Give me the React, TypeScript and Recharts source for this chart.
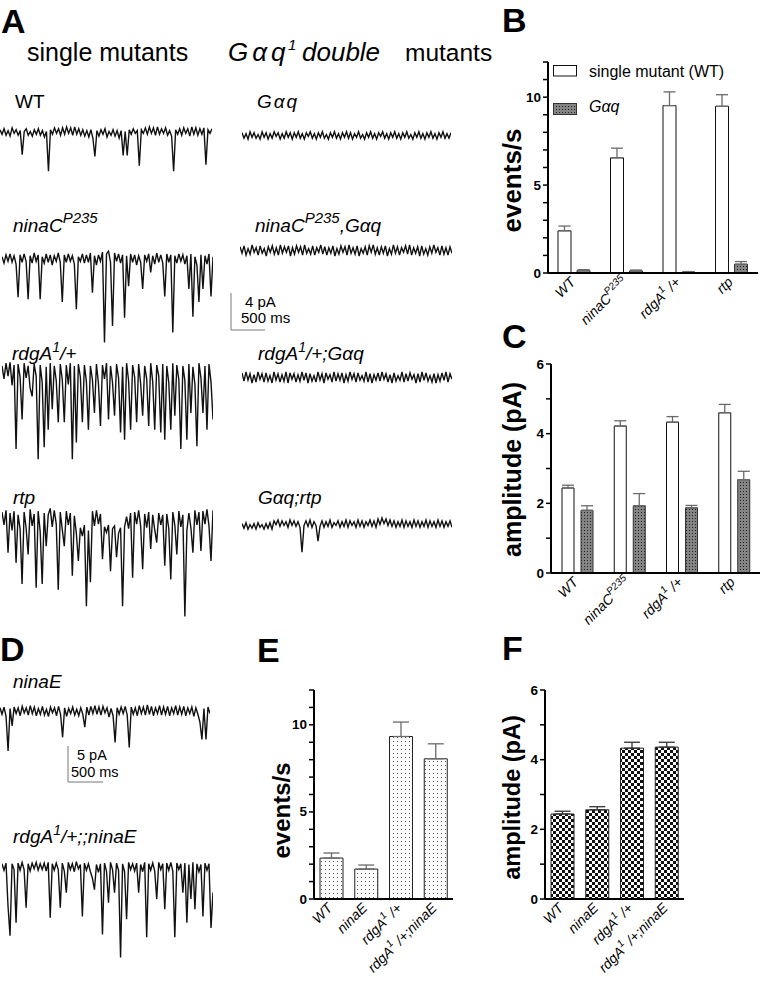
import React from "react";
import { BarChart, Bar, XAxis, YAxis, ErrorBar, LineChart, Line } from "recharts";

const FONT = "'Liberation Sans', Arial, Helvetica, sans-serif";

// ---------- Panel B / C categories ----------
const bcCategories = ["WT", "ninaC", "rdgA", "rtp"];
const bcTickBase = ["WT", "ninaC", "rdgA", "rtp"];
const bcTickSup = ["", "P235", "1", ""];
const bcTickTail = ["", "", " /+", ""];

// Panel B: events/s
const bSingle = [2.4, 6.55, 9.52, 9.48];
const bSingleErr = [0.27, 0.55, 0.78, 0.66];
const bGaq = [0.14, 0.12, 0.05, 0.5];
const bGaqErr = [0.05, 0.05, 0.03, 0.15];
const bTicks = [0, 1, 2, 3, 4, 5, 6, 7, 8, 9, 10, 11, 12];

// Panel C: amplitude (pA)
const cSingle = [2.44, 4.22, 4.33, 4.6];
const cSingleErr = [0.08, 0.15, 0.16, 0.24];
const cGaq = [1.8, 1.93, 1.87, 2.68];
const cGaqErr = [0.13, 0.35, 0.07, 0.24];
const cTicks = [0, 1, 2, 3, 4, 5, 6];

// ---------- Panel E / F categories ----------
const efCategories = ["WT", "ninaE", "rdgA", "rdgAninaE"];
const efTickBase = ["WT", "ninaE", "rdgA", "rdgA"];
const efTickSup = ["", "", "1", "1"];
const efTickTail = ["", "", " /+", " /+;ninaE"];

const eRate = [2.35, 1.72, 9.33, 8.05];
const eRateErr = [0.29, 0.23, 0.83, 0.86];
const fAmp = [2.44, 2.56, 4.33, 4.36];
const fAmpErr = [0.08, 0.09, 0.17, 0.14];

// ---------- Traces (pA, downward events negative) ----------
const traceWT = [
  0.3, -0.2, 0.4, -0.3, 0.2, -0.4, 0.5, -0.1, 0.3, -0.3,
  0.2, -2.4, 0.1, 0.4, -0.3, 0.1, -0.4, 0.3, -0.2, 0.4,
  -0.3, 0.2, -0.5, 0.1, -4.2, 0.3, -0.2, 0.5, -0.1, 0.4,
  -0.3, 0.5, -0.2, 0.6, -0.1, 0.5, -0.3, 0.6, -0.2, 0.4,
  -0.3, 0.3, -0.4, 0.2, -0.5, 0.3, -0.6, -2.6, 0.2, -0.4,
  0.3, -0.2, 0.4, -0.5, 0.1, -0.3, 0.3, -0.4, 0.2, -0.6,
  0.2, -2.5, 0.1, -2.5, 0.3, -0.2, 0.4, -0.1, 0.2, -3.6,
  0.3, -0.1, 0.5, -0.2, 0.6, -0.1, 0.5, -0.3, 0.6, -0.2,
  0.4, -0.1, 0.5, -0.3, 0.2, -0.4, -4.2, 0.3, -0.2, 0.4,
  -0.3, 0.5, -0.1, 0.4, -0.4, 0.6, -0.2, 0.5, -0.3, 0.4,
  -0.2, 0.5, -3.5, 0.3, -0.1, 0.4,
];

const traceGaq = [
  0.3, -0.3, 0.2, -0.4, 0.4, -0.2, 0.3, -0.3, 0.1, -0.4,
  0.4, -0.2, 0.3, -0.4, 0.2, -0.3, 0.4, -0.1, 0.3, -0.4,
  0.2, -0.3, 0.4, -0.2, 0.3, -0.4, 0.3, -0.2, 0.4, -0.3,
  0.2, -0.4, 0.3, -0.1, 0.4, -0.3, 0.2, -0.4, 0.3, -0.2,
  0.4, -0.3, 0.1, -0.4, 0.3, -0.2, 0.4, -0.3, 0.2, -0.4,
  0.3, -0.2, 0.4, -0.3, 0.3, -0.4, 0.2, -0.2, 0.4, -0.3,
  0.1, -0.4, 0.3, -0.2, 0.4, -0.3, 0.2, -0.4, 0.3, -0.1,
  0.4, -0.3, 0.2, -0.4, 0.3, -0.2, 0.4, -0.3, 0.2, -0.4,
  0.3, -0.2, 0.4, -0.3, 0.1, -0.4, 0.3, -0.2, 0.4, -0.3,
  0.2, -0.4, 0.3, -0.2, 0.4, -0.3, 0.2, -0.4, 0.3, -0.2,
  0.4, -0.3, 0.2, -0.3, 0.3,
];

const traceNinaC = [
  0.3, -0.4, 0.5, -0.2, 0.6, -0.3, 0.4, -0.5, -4.1, 0.5,
  -0.3, 0.6, -0.2, -4.3, 0.4, -0.4, 0.7, -0.2, 0.5, -4.3,
  0.3, -0.4, 0.6, -0.3, 0.5, -0.6, 0.4, -0.2, 0.7, -0.3,
  -4.6, 0.5, -0.3, 0.6, -0.2, 0.4, -0.5, -5.4, 0.3, -0.2,
  0.6, -0.4, 0.5, -0.3, 0.7, -3.6, 0.4, -0.6, 0.5, -0.2,
  0.8, -9.0, 0.6, 0.9, -0.3, -7.2, 0.7, -0.2, 0.6, -0.4,
  0.5, -6.3, 0.4, -2.9, 0.6, -0.3, 0.5, -0.6, 0.4, -0.3,
  -3.2, 0.5, -0.2, 0.6, -1.4, 0.4, -0.5, 0.7, -0.3, 0.5,
  -0.4, -4.0, 0.6, -0.3, 0.5, -7.9, 0.4, -0.4, 0.6, -0.2,
  0.5, -0.5, 0.4, -3.2, 0.6, -6.2, 0.3, -0.6, -4.6, 0.5,
  -3.2, 0.4, -0.5, 0.6, -4.0, 0.3,
];

const traceNinaCGaq = [
  0.4, -0.3, 0.5, -0.5, 0.2, -0.4, 0.6, -0.2, 0.3, -0.5,
  0.5, -0.3, 0.2, -0.6, 0.4, -0.2, 0.5, -0.4, 0.3, -0.5,
  0.6, -0.3, 0.4, -0.2, 0.5, -0.6, 0.3, -0.4, 0.5, -0.2,
  0.4, -0.5, 0.6, -0.3, 0.2, -0.4, 0.5, -0.5, 0.3, -0.2,
  0.6, -0.4, 0.4, -0.5, 0.3, -0.3, 0.5, -0.6, 0.2, -0.4,
  0.5, -0.2, 0.4, -0.5, 0.6, -0.3, 0.3, -0.4, 0.5, -0.6,
  0.2, -0.3, 0.4, -0.5, 0.5, -0.2, 0.6, -0.4, 0.3, -0.5,
  0.4, -0.3, 0.5, -0.6, 0.2, -0.4, 0.6, -0.3, 0.4, -0.5,
  0.3, -0.2, 0.5, -0.4, 0.6, -0.5, 0.3, -0.3, 0.4, -0.6,
  0.5, -0.4, 0.2, -0.5, 0.4, -0.3, 0.6, -0.2, 0.3, -0.5,
  0.5, -0.4, 0.3, -0.5, 0.4, -0.3,
];

const traceRdgA = [
  0.6, -0.8, 0.9, -0.5, 1.0, -1.5, 0.7, -8.4, 0.8, -0.6,
  -5.2, 0.9, -0.7, 0.6, -1.8, -2.7, 0.8, -0.5, -9.5, 0.7,
  -1.2, -8.2, 0.5, -6.3, 0.9, -4.1, 0.6, -1.0, -5.5, 0.8,
  -0.9, -5.5, 0.7, -1.4, 0.9, -9.5, 0.6, -7.7, 0.8, -0.6,
  -5.5, 0.7, -1.1, -6.3, 0.6, -0.9, -4.5, 0.8, -1.3, -5.9,
  0.7, -0.8, 0.9, -5.2, 0.6, -1.2, -4.8, 0.8, -0.7, -6.6,
  0.5, -7.4, 0.9, -1.0, -6.3, 0.7, -0.6, -5.5, 0.8, -1.3,
  -4.8, 0.6, -0.8, -5.9, 0.9, -1.1, -6.3, 0.7, -0.5, -6.6,
  0.8, -7.4, 0.6, -1.2, -6.3, 0.9, -4.8, 0.7, -0.9, -8.4,
  0.6, -1.0, -7.4, 0.8, -4.5, 0.5, -1.4, -8.1, 0.9, -0.7,
  -4.5, 0.6, -6.3, 0.8, -1.1, -5.2,
];

const traceRdgAGaq = [
  0.5, -0.4, 0.6, -0.3, 0.4, -0.6, 0.3, -0.5, 0.6, -0.2,
  0.4, -0.5, 0.5, -0.4, 0.2, -0.6, 0.6, -0.3, 0.4, -0.5,
  0.3, -0.4, 0.6, -0.6, 0.5, -0.2, 0.4, -0.5, 0.3, -0.4,
  0.6, -0.3, 0.5, -0.6, 0.4, -0.4, 0.2, -0.5, 0.6, -0.3,
  0.4, -0.6, 0.5, -0.2, 0.3, -0.5, 0.6, -0.4, 0.4, -0.3,
  0.5, -0.6, 0.3, -0.4, 0.6, -0.2, 0.4, -0.5, 0.5, -0.3,
  0.2, -0.4, 0.6, -0.5, 0.4, -0.6, 0.3, -0.3, 0.5, -0.4,
  0.6, -0.2, 0.4, -0.5, 0.3, -0.6, 0.5, -0.4, 0.2, -0.3,
  0.6, -0.5, 0.4, -0.4, 0.5, -0.2, 0.3, -0.6, 0.4, -0.5,
  0.6, -0.3, 0.5, -0.4, 0.2, -0.5, 0.4, -0.6, 0.3, -0.4,
  0.5, -0.3, 0.6, -0.5, 0.4, -0.2,
];

const traceRtp = [
  0.8, -0.6, 1.0, -3.6, 0.7, -1.2, 0.9, -4.7, 0.5, -1.0,
  -7.0, 0.8, -0.9, -3.8, 1.1, -0.7, 0.6, -7.4, 0.9, -1.3,
  -7.0, 0.7, -2.9, 0.5, 1.2, -0.8, 1.0, -0.5, -7.6, 0.8,
  -1.1, -2.9, 0.9, -0.6, 0.7, -6.1, 0.4, -1.5, -4.5, -0.9,
  -1.8, -0.6, -9.4, -1.2, -6.8, 0.9, -0.7, 1.0, -0.5, 0.6,
  -4.3, -0.8, -1.4, -0.6, -5.6, -1.0, -0.7, -4.1, -1.5, -0.9,
  -9.4, -0.8, 0.3, -1.0, 0.7, -6.3, 0.8, -0.5, 1.0, -0.7,
  -5.4, 0.6, -0.9, 0.8, -3.2, 0.5, -1.1, -2.5, 0.7, -0.6,
  0.5, -5.0, 0.6, -1.0, -6.5, 0.8, -0.6, -3.8, 0.9, -0.8,
  0.5, -10.5, -1.2, 0.7, -0.9, -3.6, 1.0, -0.6, 0.8, -3.4,
  0.9, -0.5, 1.1, -0.7, -4.5, 1.0,
];

const traceGaqRtp = [
  0.2, -0.3, 0.3, -0.4, 0.1, -0.3, 0.2, -0.4, 0.3, -0.2,
  0.1, -0.4, 0.2, -0.3, 0.3, -0.4, 0.5, 0.1, 0.6, -0.1,
  0.5, 0.0, 0.4, -0.2, 0.6, 0.0, 0.5, -0.1, 0.4, -0.2,
  -2.9, 0.0, 0.5, -0.1, 0.6, -0.2, 0.4, 0.0, -1.7, -0.1,
  0.5, -0.2, 0.4, -0.1, 0.6, -0.2, 0.3, 0.0, 0.5, -0.2,
  0.4, -0.1, 0.6, -0.2, 0.5, 0.0, 0.4, -0.2, 0.6, -0.1,
  0.5, -0.2, 0.4, 0.0, 0.6, -0.1, 0.5, -0.2, 0.7, 0.1,
  0.8, 0.2, 0.7, 0.0, 0.6, -0.1, 0.5, -0.2, 0.4, -0.1,
  0.6, -0.2, 0.5, -0.1, 0.4, -0.2, 0.6, -0.1, 0.5, -0.2,
  0.4, -0.1, 0.6, -0.2, 0.5, -0.1, 0.4, -0.2, 0.6, -0.1,
  0.5, -0.2, 0.4, -0.1, 0.5, -0.2,
];

const traceNinaE = [
  0.5, -0.4, 0.6, -0.7, -5.5, 0.4, -2.0, 0.6, -0.3, 0.5,
  -0.6, 0.7, -0.2, 0.5, -0.5, 0.8, -0.3, 0.6, -0.6, 0.4,
  -0.4, 0.7, -0.5, 0.3, -0.7, 0.6, -0.2, 0.5, -0.6, 0.7,
  -0.4, -3.6, 0.5, -0.7, 0.4, -0.3, 0.6, -0.5, 0.3, -0.6,
  0.5, -0.4, -2.2, 0.6, -0.5, 0.7, -0.3, 0.8, -0.4, 0.6,
  -0.5, 0.7, -0.2, 0.5, -0.8, 0.4, -0.6, -4.3, 0.5, -0.4,
  0.6, -0.3, 0.7, -0.5, -5.0, 0.6, -0.4, 0.5, -0.6, 0.8,
  -0.3, 0.6, -0.5, 0.9, -0.4, 0.7, -0.6, 0.5, -0.3, 0.8,
  -0.5, 0.6, -0.4, 0.7, -0.6, 0.5, -0.3, 0.8, -0.5, 0.6,
  -0.4, 0.7, -0.6, 0.5, -0.3, 0.6, -0.7, 0.5, -0.4, -1.5,
  -3.9, 0.4, -3.9, 0.6, -0.3,
];

const traceRdgANinaE = [
  0.5, -0.4, 0.6, -5.4, -9.5, 0.5, -0.3, -7.7, 0.6, -0.4,
  0.7, -0.3, -5.6, 0.5, -0.5, 0.6, -0.2, 0.7, -0.4, 0.5,
  -0.3, 0.6, -0.5, 0.7, -7.0, 0.5, -0.4, 0.6, -0.3, -5.6,
  0.6, -0.5, -3.5, 0.7, -0.3, 0.5, -0.6, 0.8, -0.2, 0.4,
  -6.8, 0.6, -0.4, 0.5, -0.6, -1.5, -3.1, 0.4, -0.7, 0.5,
  -9.3, 0.6, -0.5, -4.9, 0.7, -0.3, -3.5, 0.6, -0.4, -12.5,
  0.5, -0.6, -7.2, 0.7, -0.3, 0.5, -0.5, 0.6, -3.5, 0.4,
  -0.6, 0.7, -9.7, 0.5, -0.4, 0.6, -0.5, -4.4, 0.7, -0.3,
  0.5, -5.8, 0.6, -0.4, 0.7, -0.5, -9.7, 0.6, -0.3, 0.5,
  -3.5, 0.6, -7.7, 0.4, -4.4, 0.7, -5.8, 0.5, -0.6, 0.4,
  -6.8, 0.6, -0.4, 0.5, -8.4, -3.5,
];

// ---------- tables built for the library ----------
const bData = bcCategories.map((c, i) => ({
  cat: c, single: bSingle[i], singleErr: [0, bSingleErr[i]], gaq: bGaq[i], gaqErr: [0, bGaqErr[i]],
}));
const cData = bcCategories.map((c, i) => ({
  cat: c, single: cSingle[i], singleErr: [0, cSingleErr[i]], gaq: cGaq[i], gaqErr: [0, cGaqErr[i]],
}));
const eData = efCategories.map((c, i) => ({ cat: c, v: eRate[i], err: [0, eRateErr[i]] }));
const fData = efCategories.map((c, i) => ({ cat: c, v: fAmp[i], err: [0, fAmpErr[i]] }));

function makeTick(bases: string[], sups: string[], tails: string[], fs: number, dx: number, dy: number) {
  return (props: any) => {
    const { x, y, index } = props;
    const i = index;
    return (
      <g transform={`translate(${x + dx},${y + dy}) rotate(-45)`}>
        <text textAnchor="end" fontFamily={FONT} fontStyle="italic" fontSize={fs} fill="#000">
          <tspan>{bases[i]}</tspan>
          {sups[i] ? <tspan dy={-fs * 0.45} fontSize={fs * 0.72}>{sups[i]}</tspan> : null}
          {tails[i] ? <tspan dy={fs * 0.45}>{tails[i]}</tspan> : null}
        </text>
      </g>
    );
  };
}

function makeYTick(every: number) {
  return (props: any) => {
    const { x, y, payload } = props;
    const v = payload.value as number;
    if (v % every !== 0) return <g />;
    return (
      <text x={x} y={y} dy={4.5} textAnchor="end" fontFamily={FONT} fontWeight="bold" fontSize={13.5} fill="#000">
        {String(v)}
      </text>
    );
  };
}

function Trace(props: { values: number[]; left: number; top: number; width: number; height: number; domain: [number, number] }) {
  const { values, left, top, width, height, domain } = props;
  const data = values.map((v, i) => ({ i, v }));
  return (
    <div style={{ position: "absolute", left, top }}>
      <LineChart width={width} height={height} data={data} margin={{ top: 0, right: 0, left: 0, bottom: 0 }}>
        <XAxis dataKey="i" type="number" domain={[0, values.length - 1]} hide />
        <YAxis type="number" domain={domain} hide allowDataOverflow />
        <Line dataKey="v" type="linear" stroke="#111" strokeWidth={1.4} strokeLinejoin="miter" dot={false} isAnimationActive={false} />
      </LineChart>
    </div>
  );
}

const axisLine = { stroke: "#000", strokeWidth: 2 };
const yTickLine = { stroke: "#000", strokeWidth: 1.5 };
const errGray = "#6a6a6a";

const A_DOMAIN: [number, number] = [-11, 2];
const D_DOMAIN: [number, number] = [-13, 2];

export default function App() {
  return (
    <div style={{ position: "absolute", left: 0, top: 0, width: 761, height: 984, background: "#fff", fontFamily: FONT }}>
      <svg width={0} height={0} style={{ position: "absolute" }}>
        <defs>
          <pattern id="dotsDark" width={3} height={3} patternUnits="userSpaceOnUse">
            <rect width={3} height={3} fill="#848484" />
            <rect x={1} y={1} width={1} height={1} fill="#222" />
          </pattern>
          <pattern id="dotsLight" width={4} height={4} patternUnits="userSpaceOnUse">
            <rect width={4} height={4} fill="#fbfbfb" />
            <rect x={1} y={1} width={1} height={1} fill="#555" />
          </pattern>
          <pattern id="checker" width={6} height={6} patternUnits="userSpaceOnUse">
            <rect width={6} height={6} fill="#fff" />
            <rect x={0} y={0} width={3} height={3} fill="#111" />
            <rect x={3} y={3} width={3} height={3} fill="#111" />
          </pattern>
        </defs>
      </svg>

      {/* Panel A traces */}
      <Trace values={traceWT} left={0} top={114} width={212} height={120} domain={A_DOMAIN} />
      <Trace values={traceGaq} left={242} top={117} width={209} height={120} domain={A_DOMAIN} />
      <Trace values={traceNinaC} left={2} top={241} width={211} height={120} domain={A_DOMAIN} />
      <Trace values={traceNinaCGaq} left={240} top={232} width={212} height={120} domain={A_DOMAIN} />
      <Trace values={traceRdgA} left={2} top={353} width={211} height={120} domain={A_DOMAIN} />
      <Trace values={traceRdgAGaq} left={242} top={359} width={210} height={120} domain={A_DOMAIN} />
      <Trace values={traceRtp} left={2} top={501} width={211} height={120} domain={A_DOMAIN} />
      <Trace values={traceGaqRtp} left={242} top={507} width={210} height={120} domain={A_DOMAIN} />

      {/* Panel D traces */}
      <Trace values={traceNinaE} left={0} top={697} width={210} height={108} domain={D_DOMAIN} />
      <Trace values={traceRdgANinaE} left={2} top={853} width={211} height={108} domain={D_DOMAIN} />

      {/* Panel B */}
      <div style={{ position: "absolute", left: 490, top: 40 }}>
        <BarChart width={271} height={300} data={bData} margin={{ top: 22, right: 3, left: 0, bottom: 0 }} barGap={6}>
          <XAxis dataKey="cat" height={67} interval={0} tickSize={0} tickMargin={0} axisLine={axisLine} tickLine={false}
            tick={makeTick(bcTickBase, bcTickSup, bcTickTail, 14, 2, 10)} />
          <YAxis width={58} domain={[0, 12]} ticks={bTicks} interval={0} tickSize={5} tickMargin={2} axisLine={axisLine}
            tickLine={yTickLine} tick={makeYTick(5)} />
          <Bar dataKey="single" fill="#fff" stroke="#111" strokeWidth={1} barSize={13} isAnimationActive={false}>
            <ErrorBar dataKey="singleErr" width={6} stroke={errGray} strokeWidth={1.3} direction="y" />
          </Bar>
          <Bar dataKey="gaq" fill="url(#dotsDark)" stroke="#333" strokeWidth={1} barSize={13} isAnimationActive={false}>
            <ErrorBar dataKey="gaqErr" width={6} stroke={errGray} strokeWidth={1.3} direction="y" />
          </Bar>
        </BarChart>
      </div>

      {/* Panel C */}
      <div style={{ position: "absolute", left: 490, top: 340 }}>
        <BarChart width={271} height={300} data={cData} margin={{ top: 24, right: 1, left: 0, bottom: 0 }} barGap={7}>
          <XAxis dataKey="cat" height={67} interval={0} tickSize={0} tickMargin={0} axisLine={axisLine} tickLine={false}
            tick={makeTick(bcTickBase, bcTickSup, bcTickTail, 14, 2, 10)} />
          <YAxis width={61} domain={[0, 6]} ticks={cTicks} interval={0} tickSize={5} tickMargin={2} axisLine={axisLine}
            tickLine={yTickLine} tick={makeYTick(2)} />
          <Bar dataKey="single" fill="#fff" stroke="#111" strokeWidth={1} barSize={12} isAnimationActive={false}>
            <ErrorBar dataKey="singleErr" width={6} stroke={errGray} strokeWidth={1.3} direction="y" />
          </Bar>
          <Bar dataKey="gaq" fill="url(#dotsDark)" stroke="#333" strokeWidth={1} barSize={12} isAnimationActive={false}>
            <ErrorBar dataKey="gaqErr" width={6} stroke={errGray} strokeWidth={1.3} direction="y" />
          </Bar>
        </BarChart>
      </div>

      {/* Panel E */}
      <div style={{ position: "absolute", left: 240, top: 660 }}>
        <BarChart width={240} height={324} data={eData} margin={{ top: 30, right: 27, left: 0, bottom: 0 }}>
          <XAxis dataKey="cat" height={85} interval={0} tickSize={0} tickMargin={0} axisLine={axisLine} tickLine={false}
            tick={makeTick(efTickBase, efTickSup, efTickTail, 14, 2, 10)} />
          <YAxis width={74} domain={[0, 12]} ticks={bTicks} interval={0} tickSize={5} tickMargin={2} axisLine={axisLine}
            tickLine={yTickLine} tick={makeYTick(5)} />
          <Bar dataKey="v" fill="url(#dotsLight)" stroke="#222" strokeWidth={1} barSize={23} isAnimationActive={false}>
            <ErrorBar dataKey="err" width={8} stroke={errGray} strokeWidth={1.3} direction="y" />
          </Bar>
        </BarChart>
      </div>

      {/* Panel F */}
      <div style={{ position: "absolute", left: 490, top: 660 }}>
        <BarChart width={271} height={324} data={fData} margin={{ top: 30, right: 77, left: 0, bottom: 0 }}>
          <XAxis dataKey="cat" height={85} interval={0} tickSize={0} tickMargin={0} axisLine={axisLine} tickLine={false}
            tick={makeTick(efTickBase, efTickSup, efTickTail, 14, 2, 10)} />
          <YAxis width={55} domain={[0, 6]} ticks={cTicks} interval={0} tickSize={5} tickMargin={2} axisLine={axisLine}
            tickLine={yTickLine} tick={makeYTick(2)} />
          <Bar dataKey="v" fill="url(#checker)" stroke="#222" strokeWidth={1} barSize={23} isAnimationActive={false}>
            <ErrorBar dataKey="err" width={8} stroke="#333" strokeWidth={1.3} direction="y" />
          </Bar>
        </BarChart>
      </div>

      {/* Text overlay */}
      <svg width={761} height={984} style={{ position: "absolute", left: 0, top: 0, pointerEvents: "none" }} fontFamily={FONT}>
        {/* panel letters */}
        <g fontWeight="bold" fontSize={34} fill="#000">
          <text x={1} y={33}>A</text>
          <text x={502} y={32}>B</text>
          <text x={502} y={348}>C</text>
          <text x={0} y={661}>D</text>
          <text x={257} y={662}>E</text>
          <text x={502} y={660}>F</text>
        </g>

        {/* A headings */}
        <text x={27} y={61} fontSize={25}>single mutants</text>
        <text y={61} fontSize={26}>
          <tspan x={228} fontStyle="italic" letterSpacing={4}>Gαq</tspan>
          <tspan x={288} fontStyle="italic" fontSize={15} dy={-11}>1</tspan>
          <tspan x={302} fontStyle="italic" dy={11}>double</tspan>
          <tspan x={405} fontSize={24.5}>mutants</tspan>
        </text>

        {/* trace labels */}
        <g fontSize={19} fill="#000">
          <text x={15} y={108}>WT</text>
          <text x={257} y={108} fontStyle="italic" letterSpacing={2}>Gαq</text>
          <text x={13} y={232} fontStyle="italic">ninaC<tspan dy={-9} fontSize={15}>P235</tspan></text>
          <text x={255} y={232} fontStyle="italic">ninaC<tspan dy={-9} fontSize={15}>P235</tspan><tspan dy={9}>,Gαq</tspan></text>
          <text x={12} y={360} fontStyle="italic">rdgA<tspan dy={-8} fontSize={14}>1</tspan><tspan dy={8}>/+</tspan></text>
          <text x={258} y={360} fontStyle="italic">rdgA<tspan dy={-8} fontSize={14}>1</tspan><tspan dy={8}>/+;Gαq</tspan></text>
          <text x={13} y={504} fontStyle="italic">rtp</text>
          <text x={258} y={504} fontStyle="italic">Gαq;rtp</text>
          <text x={13} y={688} fontStyle="italic">ninaE</text>
          <text x={13} y={843} fontStyle="italic">rdgA<tspan dy={-8} fontSize={14}>1</tspan><tspan dy={8}>/+;;ninaE</tspan></text>
        </g>

        {/* scale bars */}
        <g stroke="#777" strokeWidth={1} fill="none">
          <polyline points="231,293 231,330 265,330" />
          <polyline points="68,746 68,782 103,782" />
        </g>
        <g fontSize={15} fill="#000">
          <text x={245} y={307}>4 pA</text>
          <text x={241} y={323}>500 ms</text>
          <text x={77} y={760} fontSize={14.5}>5 pA</text>
          <text x={71} y={777} fontSize={14.5}>500 ms</text>
        </g>

        {/* legend panel B */}
        <rect x={553.5} y={65.5} width={23} height={10.5} fill="#fff" stroke="#111" strokeWidth={1} />
        <rect x={553.5} y={103.5} width={23} height={11} fill="url(#dotsDark)" stroke="#333" strokeWidth={1} />
        <text x={589} y={77} fontSize={16}>single mutant (WT)</text>
        <text x={589} y={112} fontSize={16} fontStyle="italic">Gαq</text>

        {/* y axis titles */}
        <g fontWeight="bold" fill="#000" textAnchor="middle">
          <text transform="translate(521,180.5) rotate(-90)" fontSize={26}>events/s</text>
          <text transform="translate(521,469.5) rotate(-90)" fontSize={25}>amplitude (pA)</text>
          <text transform="translate(290,810.5) rotate(-90)" fontSize={24}>events/s</text>
          <text transform="translate(520,797.5) rotate(-90)" fontSize={23.5}>amplitude (pA)</text>
        </g>
      </svg>
    </div>
  );
}
